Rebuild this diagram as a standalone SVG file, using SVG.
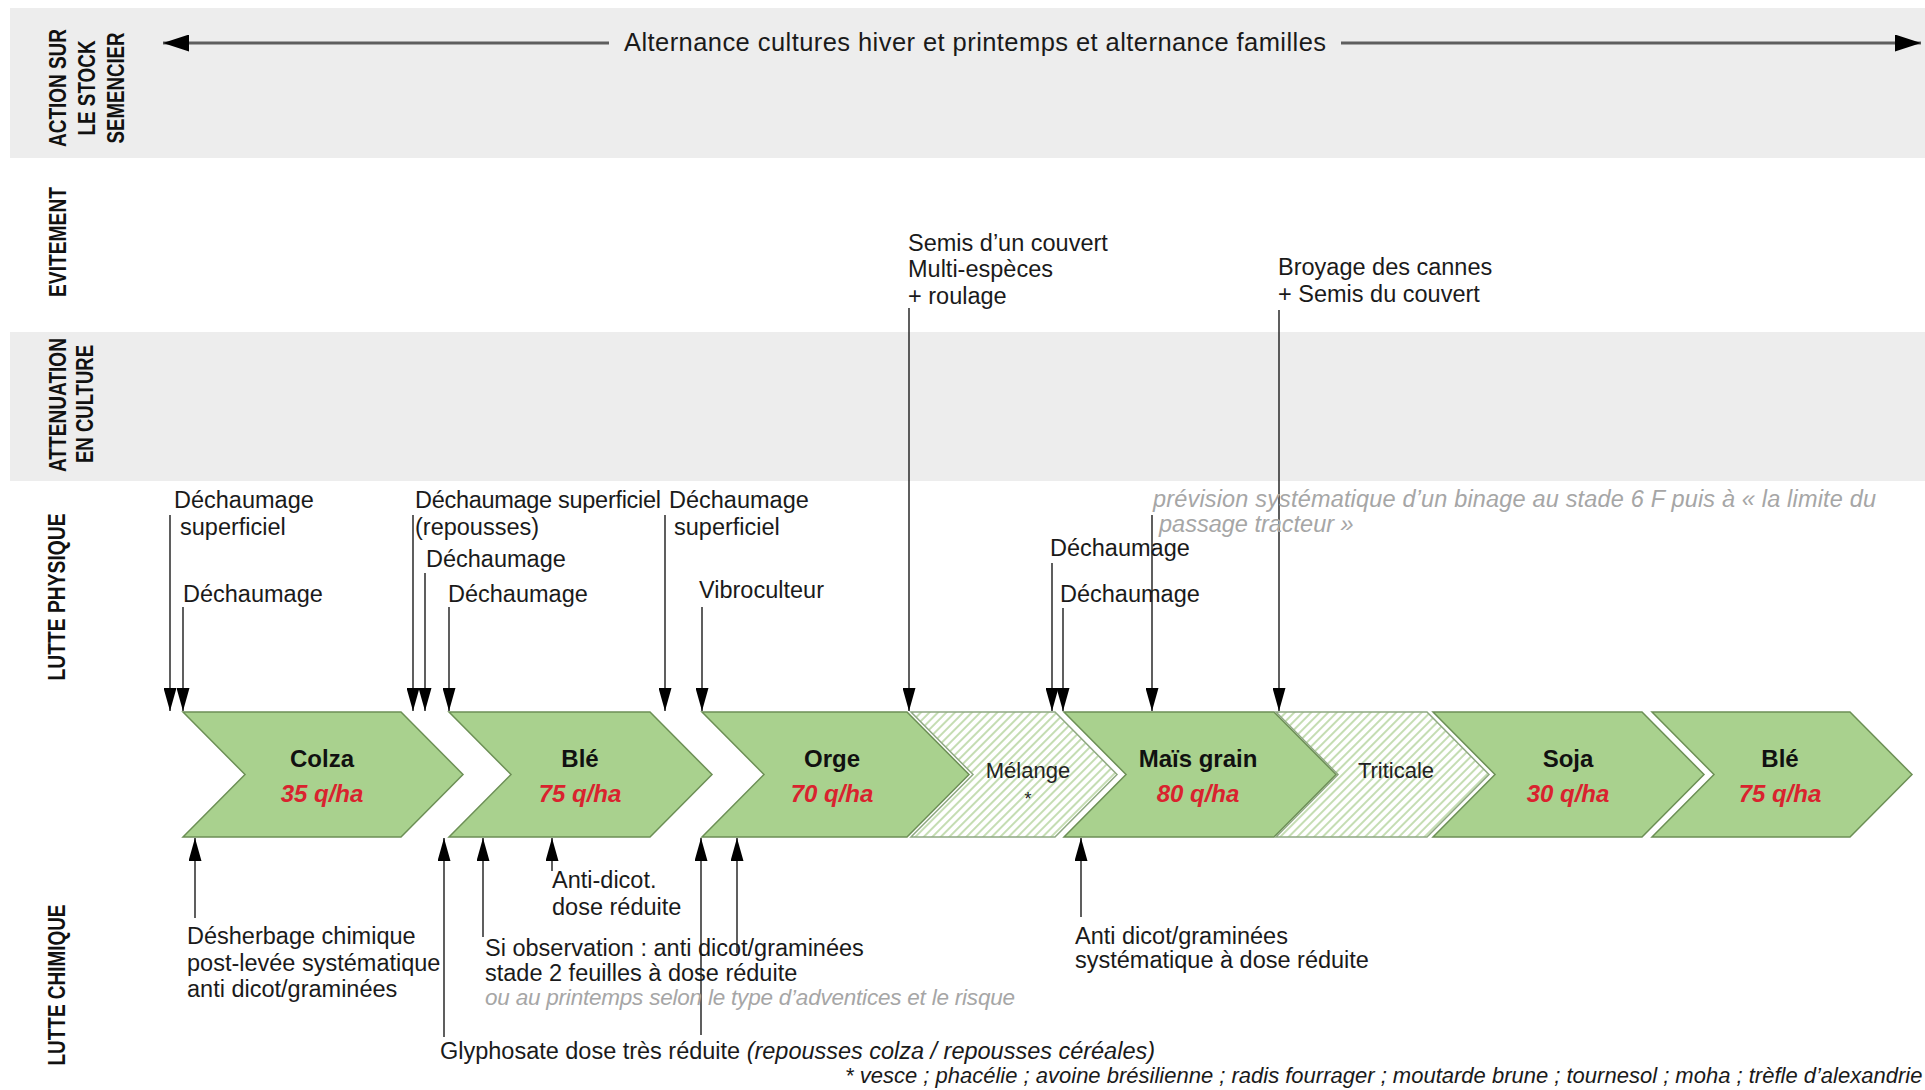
<svg xmlns="http://www.w3.org/2000/svg" width="1925" height="1090" viewBox="0 0 1925 1090">
<style>
.band{fill:#ededed}
.lab{font-family:"Liberation Sans Narrow","Liberation Sans",Arial,sans-serif;font-weight:bold;font-size:24px;fill:#111}
.t{font-family:"Liberation Sans",Arial,sans-serif;font-size:23.5px;fill:#1a1a1a}
.gi{font-family:"Liberation Sans",Arial,sans-serif;font-size:23.5px;font-style:italic;fill:#a6a6a6}
.it{font-style:italic}
.chev{fill:#a9d18e;stroke:#6c8f55;stroke-width:1.5}
.hat{fill:url(#hatch);stroke:#8fa882;stroke-width:1.5}
.name{font-family:"Liberation Sans",Arial,sans-serif;font-weight:bold;font-size:24px;fill:#111;text-anchor:middle}
.yield{font-family:"Liberation Sans",Arial,sans-serif;font-weight:bold;font-style:italic;font-size:24px;fill:#d9232e;text-anchor:middle}
.mix{font-family:"Liberation Sans",Arial,sans-serif;font-size:22px;fill:#222;text-anchor:middle}
.ar{stroke:#1a1a1a;stroke-width:1.4;fill:none;marker-end:url(#ah)}
.big{stroke:#5e5e5e;stroke-width:3;fill:none;marker-end:url(#ahb)}
</style>
<defs>
<marker id="ah" viewBox="0 0 23 13" refX="23" refY="6.5" markerWidth="23" markerHeight="13" markerUnits="userSpaceOnUse" orient="auto">
<path d="M0,0 L23,6.5 L0,13 z" fill="#000"/>
</marker>
<marker id="ahb" viewBox="0 0 26 17" refX="26" refY="8.5" markerWidth="26" markerHeight="17" markerUnits="userSpaceOnUse" orient="auto">
<path d="M0,0 L26,8.5 L0,17 z" fill="#000"/>
</marker>
<pattern id="hatch" width="6" height="6" patternUnits="userSpaceOnUse" patternTransform="rotate(45)">
<rect width="6" height="6" fill="#ffffff"/>
<line x1="3" y1="0" x2="3" y2="6" stroke="#bfdaab" stroke-width="1.8"/>
</pattern>
</defs>
<rect width="1925" height="1090" fill="#ffffff"/>

<g id="bands">
<rect class="band" x="10" y="8" width="1915" height="150"/>
<rect class="band" x="10" y="332" width="1915" height="149"/>
</g>

<g id="band-labels">
<text class="lab" text-anchor="middle" transform="translate(66,88) rotate(-90)" textLength="118" lengthAdjust="spacingAndGlyphs">ACTION SUR</text>
<text class="lab" text-anchor="middle" transform="translate(95,88) rotate(-90)" textLength="95" lengthAdjust="spacingAndGlyphs">LE STOCK</text>
<text class="lab" text-anchor="middle" transform="translate(124,88) rotate(-90)" textLength="111" lengthAdjust="spacingAndGlyphs">SEMENCIER</text>
<text class="lab" text-anchor="middle" transform="translate(66,242) rotate(-90)" textLength="110" lengthAdjust="spacingAndGlyphs">EVITEMENT</text>
<text class="lab" text-anchor="middle" transform="translate(66,405) rotate(-90)" textLength="134" lengthAdjust="spacingAndGlyphs">ATTENUATION</text>
<text class="lab" text-anchor="middle" transform="translate(93,404) rotate(-90)" textLength="118" lengthAdjust="spacingAndGlyphs">EN CULTURE</text>
<text class="lab" text-anchor="middle" transform="translate(65,597) rotate(-90)" textLength="167" lengthAdjust="spacingAndGlyphs">LUTTE PHYSIQUE</text>
<text class="lab" text-anchor="middle" transform="translate(65,985) rotate(-90)" textLength="161" lengthAdjust="spacingAndGlyphs">LUTTE CHIMIQUE</text>
</g>

<g id="rotation-arrow">
<line class="big" x1="609" y1="43" x2="163" y2="43"/>
<line class="big" x1="1341" y1="43" x2="1921" y2="43"/>
<text class="t" x="624" y="51" style="font-size:25.5px" textLength="702">Alternance cultures hiver et printemps et alternance familles</text>
</g>

<g id="node-colza">
<polygon class="chev" points="183,712 401,712 463,774.5 401,837 183,837 245,774.5"/>
<text class="name" x="322" y="767">Colza</text>
<text class="yield" x="322" y="802">35 q/ha</text>
</g>
<g id="node-ble1">
<polygon class="chev" points="449,712 650,712 712,774.5 650,837 449,837 511,774.5"/>
<text class="name" x="580" y="767">Blé</text>
<text class="yield" x="580" y="802">75 q/ha</text>
</g>
<g id="node-orge">
<polygon class="chev" points="702,712 907,712 969,774.5 907,837 702,837 764,774.5"/>
<text class="name" x="832" y="767">Orge</text>
<text class="yield" x="832" y="802">70 q/ha</text>
</g>
<g id="node-melange">
<polygon class="hat" points="911,712 1055,712 1117,774.5 1055,837 911,837 973,774.5"/>
<text class="mix" x="1028" y="778">Mélange</text>
<text class="mix" x="1028" y="805" style="font-size:18px">*</text>
</g>
<g id="node-mais">
<polygon class="chev" points="1064,712 1274,712 1336,774.5 1274,837 1064,837 1126,774.5"/>
<text class="name" x="1198" y="767">Maïs grain</text>
<text class="yield" x="1198" y="802">80 q/ha</text>
</g>
<g id="node-triticale">
<polygon class="hat" points="1276,712 1427,712 1489,774.5 1427,837 1276,837 1338,774.5"/>
<text class="mix" x="1396" y="778">Triticale</text>
</g>
<g id="node-soja">
<polygon class="chev" points="1433,712 1642,712 1704,774.5 1642,837 1433,837 1495,774.5"/>
<text class="name" x="1568" y="767">Soja</text>
<text class="yield" x="1568" y="802">30 q/ha</text>
</g>
<g id="node-ble2">
<polygon class="chev" points="1652,712 1850,712 1912,774.5 1850,837 1652,837 1714,774.5"/>
<text class="name" x="1780" y="767">Blé</text>
<text class="yield" x="1780" y="802">75 q/ha</text>
</g>

<g id="connectors">
<line class="ar" x1="170" y1="515" x2="170" y2="711"/>
<line class="ar" x1="183" y1="607" x2="183" y2="711"/>
<line class="ar" x1="413" y1="515" x2="413" y2="711"/>
<line class="ar" x1="425" y1="573" x2="425" y2="711"/>
<line class="ar" x1="449" y1="607" x2="449" y2="711"/>
<line class="ar" x1="665" y1="515" x2="665" y2="711"/>
<line class="ar" x1="702" y1="607" x2="702" y2="711"/>
<line class="ar" x1="909" y1="308" x2="909" y2="711"/>
<line class="ar" x1="1052" y1="563" x2="1052" y2="711"/>
<line class="ar" x1="1063" y1="608" x2="1063" y2="711"/>
<line class="ar" x1="1152" y1="515" x2="1152" y2="711"/>
<line class="ar" x1="1279" y1="310" x2="1279" y2="711"/>
<line class="ar" x1="195" y1="918" x2="195" y2="838"/>
<line class="ar" x1="444" y1="1037" x2="444" y2="838"/>
<line class="ar" x1="483" y1="937" x2="483" y2="838"/>
<line class="ar" x1="552" y1="871" x2="552" y2="838"/>
<line class="ar" x1="701" y1="1035" x2="701" y2="838"/>
<line class="ar" x1="737" y1="953" x2="737" y2="838"/>
<line class="ar" x1="1081" y1="917" x2="1081" y2="838"/>
</g>

<g id="evitement-labels">
<text class="t" x="908" y="251">Semis d’un couvert</text>
<text class="t" x="908" y="277">Multi-espèces</text>
<text class="t" x="908" y="304">+ roulage</text>
<text class="t" x="1278" y="275">Broyage des cannes</text>
<text class="t" x="1278" y="302">+ Semis du couvert</text>
</g>

<g id="physique-labels">
<text class="t" x="174" y="508">Déchaumage</text>
<text class="t" x="180" y="535">superficiel</text>
<text class="t" x="183" y="602">Déchaumage</text>
<text class="t" x="415" y="508" textLength="246">Déchaumage superficiel</text>
<text class="t" x="415" y="535">(repousses)</text>
<text class="t" x="426" y="567">Déchaumage</text>
<text class="t" x="448" y="602">Déchaumage</text>
<text class="t" x="669" y="508">Déchaumage</text>
<text class="t" x="674" y="535">superficiel</text>
<text class="t" x="699" y="598">Vibroculteur</text>
<text class="t" x="1050" y="556">Déchaumage</text>
<text class="t" x="1060" y="602">Déchaumage</text>
<text class="gi" x="1153" y="507" textLength="723">prévision systématique d’un binage au stade 6 F puis à « la limite du</text>
<text class="gi" x="1159" y="532">passage tracteur »</text>
</g>

<g id="chimique-labels">
<text class="t" x="187" y="944">Désherbage chimique</text>
<text class="t" x="187" y="971">post-levée systématique</text>
<text class="t" x="187" y="997">anti dicot/graminées</text>
<text class="t" x="552" y="888">Anti-dicot.</text>
<text class="t" x="552" y="915">dose réduite</text>
<text class="t" x="485" y="956">Si observation : anti dicot/graminées</text>
<text class="t" x="485" y="981">stade 2 feuilles à dose réduite</text>
<text class="gi" x="485" y="1005" style="font-size:22.5px" textLength="530">ou au printemps selon le type d’adventices et le risque</text>
<text class="t" x="440" y="1059" textLength="715">Glyphosate dose très réduite <tspan class="it">(repousses colza / repousses céréales)</tspan></text>
<text class="t" x="1075" y="944">Anti dicot/graminées</text>
<text class="t" x="1075" y="968">systématique à dose réduite</text>
<text class="t it" x="845" y="1083" style="font-size:22px">* vesce ; phacélie ; avoine brésilienne ; radis fourrager ; moutarde brune ; tournesol ; moha ; trèfle d’alexandrie</text>
</g>
</svg>
